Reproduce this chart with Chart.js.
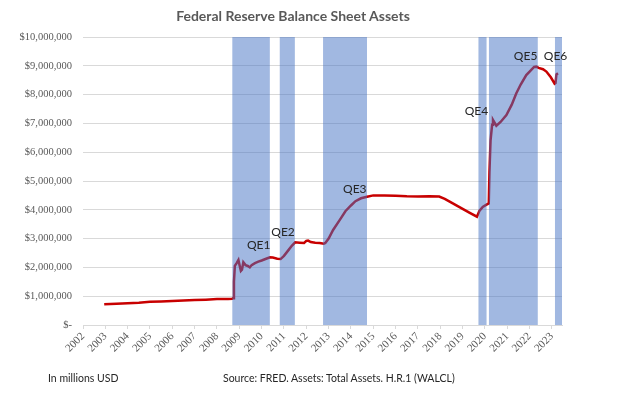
<!DOCTYPE html>
<html><head><meta charset="utf-8">
<script src="https://cdn.jsdelivr.net/npm/chart.js@4/dist/chart.umd.min.js"></script>
<style>
html,body{margin:0;padding:0;background:#fff;}
#wrap{position:relative;width:624px;height:393px;overflow:hidden;}
canvas{position:absolute;left:0;top:0;}
.t{position:absolute;font-family:Lato,"Open Sans",sans-serif;white-space:nowrap;}
#title{left:0;width:586px;top:7px;text-align:center;font-size:14px;font-weight:bold;color:#595959;}
#f1{left:48px;top:372px;font-size:10.5px;color:#262626;}
#f2{left:223px;top:372px;font-size:10.5px;color:#262626;}
</style></head>
<body>
<div id="wrap">
<canvas id="c" width="624" height="393"></canvas>
<div class="t" id="title">Federal Reserve Balance Sheet Assets</div>
<div class="t" id="f1">In millions USD</div>
<div class="t" id="f2">Source: FRED. Assets: Total Assets. H.R.1 (WALCL)</div>
</div>
<script>
// ---- data ----
const years = [2002,2003,2004,2005,2006,2007,2008,2009,2010,2011,2012,2013,2014,2015,2016,2017,2018,2019,2020,2021,2022,2023];
const yTicks = [0,1000000,2000000,3000000,4000000,5000000,6000000,7000000,8000000,9000000,10000000];
const dates = [2002.95,2003.5,2004.0,2004.5,2005.0,2005.5,2006.0,2006.5,2007.0,2007.5,2008.0,2008.5,2008.68,
  2008.72,2008.76,2008.80,2008.88,2008.96,2009.02,2009.07,2009.12,2009.18,2009.28,2009.38,2009.47,2009.55,2009.70,2009.85,
  2010.0,2010.2,2010.37,2010.5,2010.7,2010.85,2011.0,2011.2,2011.35,2011.5,2011.7,2011.9,2012.0,2012.08,2012.2,2012.4,2012.6,2012.78,
  2012.85,2013.0,2013.2,2013.5,2013.75,2014.0,2014.2,2014.45,2014.72,2015.0,2015.5,2016.0,2016.5,2017.0,2017.5,2017.95,
  2018.2,2018.5,2018.8,2019.0,2019.3,2019.64,2019.75,2019.9,2020.05,2020.17,2020.20,2020.25,2020.32,2020.36,2020.45,2020.51,
  2020.7,2020.96,2021.2,2021.4,2021.6,2021.85,2022.0,2022.2,2022.3,2022.4,2022.6,2022.75,2022.95,2023.12,2023.16,2023.20,2023.27];
const assets = [720000,740000,755000,775000,805000,820000,835000,850000,865000,880000,900000,905000,910000,
  930000,1500000,2050000,2150000,2260000,2050000,1880000,1920000,2180000,2080000,2050000,2000000,2080000,2150000,2200000,
  2240000,2300000,2350000,2340000,2300000,2290000,2400000,2600000,2750000,2870000,2860000,2850000,2920000,2930000,2880000,2860000,2850000,2820000,
  2850000,3000000,3300000,3650000,3950000,4150000,4300000,4400000,4450000,4500000,4500000,4490000,4470000,4460000,4470000,4460000,
  4380000,4250000,4120000,4030000,3900000,3760000,3960000,4100000,4170000,4220000,5300000,6400000,6950000,7120000,7000000,6920000,
  7050000,7290000,7650000,8040000,8350000,8680000,8800000,8960000,8970000,8930000,8880000,8800000,8600000,8380000,8400000,8700000,8740000];
const qeNames = ["QE1","QE2","QE3","QE4","QE5","QE6"];
const qeStart = [2008.68,2010.80,2012.75,2019.70,2020.17,2023.13];
const qeEnd   = [2010.37,2011.49,2014.72,2020.08,2022.37,2023.45];
const qeLabelX = [2009.87,2010.96,2014.17,2019.62,2021.82,2023.16];
const qeLabelY = [2780000,3220000,4710000,7430000,9340000,9340000];

const Y_MAX = 10000000;
const gridCol = '#d9d9d9';

const bandSets = qeStart.map((s,i)=>({
  type:'line', label:qeNames[i],
  data:[{x:s,y:Y_MAX},{x:qeEnd[i],y:Y_MAX}],
  fill:'origin', backgroundColor:'rgba(68,114,196,0.5)',
  borderColor:'rgba(0,0,0,0)', borderWidth:0, pointRadius:0, order:0
}));

const qeLabels = {
  id:'qeLabels',
  afterDatasetsDraw(chart){
    const ctx = chart.ctx, xs = chart.scales.x, ys = chart.scales.y;
    ctx.save();
    ctx.font = '12px Lato, "Open Sans", sans-serif';
    ctx.fillStyle = '#262626';
    ctx.textAlign = 'center'; ctx.textBaseline = 'middle';
    qeNames.forEach((n,i)=>ctx.fillText(n, xs.getPixelForValue(qeLabelX[i]), ys.getPixelForValue(qeLabelY[i])));
    ctx.restore();
  }
};

new Chart(document.getElementById('c'), {
  type:'line',
  data:{datasets:[
    {label:'Total Assets', data:dates.map((d,i)=>({x:d,y:assets[i]})),
     borderColor:'#c80000', borderWidth:2.5, pointRadius:0, fill:false, tension:0, order:1},
    ...bandSets
  ]},
  options:{
    responsive:false, animation:false, devicePixelRatio:1,
    layout:{padding:{left:0,right:62,top:37,bottom:0}},
    plugins:{legend:{display:false}, tooltip:{enabled:false}, title:{display:false}},
    scales:{
      x:{type:'linear', min:2002, max:2023.45,
        afterBuildTicks:s=>{s.ticks = years.map(v=>({value:v}));},
        afterFit:s=>{s.height = 68;},
        ticks:{autoSkip:false, minRotation:45, maxRotation:45,
          font:{family:'"Liberation Serif", serif', size:11}, color:'#595959', padding:1,
          callback:v=>String(v)},
        grid:{drawOnChartArea:false, drawTicks:true, tickLength:4, color:gridCol},
        border:{color:gridCol}
      },
      y:{min:0, max:Y_MAX,
        afterBuildTicks:s=>{s.ticks = yTicks.map(v=>({value:v}));},
        afterFit:s=>{s.width = 83;},
        ticks:{font:{family:'"Liberation Serif", serif', size:10.5}, color:'#595959', padding:11,
          callback:v=> v===0 ? '$-' : '$' + v.toLocaleString('en-US')},
        grid:{color:gridCol, drawTicks:false},
        border:{display:false}
      }
    }
  },
  plugins:[qeLabels]
});
</script>
</body></html>
